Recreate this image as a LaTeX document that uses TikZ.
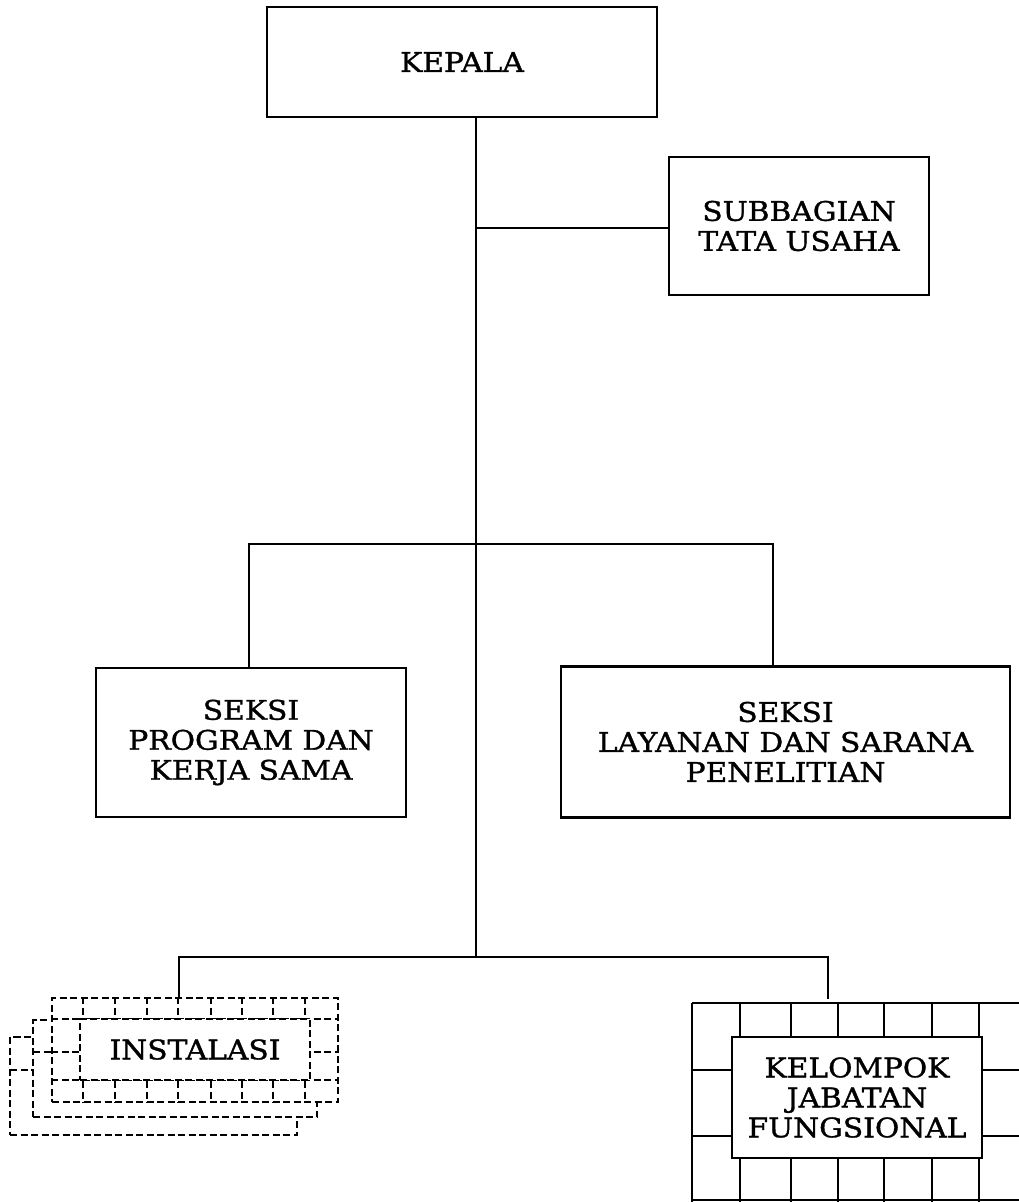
\documentclass[tikz,border=0pt]{standalone}
\usepackage{fontspec}
\setmainfont[FakeStretch=1.1,FakeBold=1.2]{DejaVu Serif}
\begin{document}
\begin{tikzpicture}[x=1pt,y=-1pt,
  line/.style={line width=2.1pt},
  box/.style={draw,line width=2.1pt,fill=white,align=center,inner sep=0pt,
    font=\fontsize{27}{30}\selectfont},
  dline/.style={line width=1.6pt,dash pattern=on 7pt off 3.5pt},
  dbox/.style={draw,dline,fill=white,inner sep=0pt},
  gline/.style={line width=1.9pt}]
\useasboundingbox (0,0) rectangle (1019,1202);

% main boxes
\node[box,minimum width=390pt,minimum height=110pt] (kepala) at (462,62) {KEPALA};
\node[box,minimum width=260pt,minimum height=138pt] (tu) at (799,226) {SUBBAGIAN\\TATA USAHA};
\node[box,minimum width=310pt,minimum height=149pt] (prog) at (251,742.5) {SEKSI\\PROGRAM DAN\\KERJA SAMA};
\node[box,minimum width=449pt,minimum height=151pt] (lay) at (785.5,742) {SEKSI\\LAYANAN DAN SARANA\\PENELITIAN};

% spine and junctions
\coordinate (j1) at (476,228);
\coordinate (j2) at (476,544);
\coordinate (jl) at (249,544);
\coordinate (jr) at (773,544);
\coordinate (j3) at (476,957);
\coordinate (bl) at (179,957);
\coordinate (br) at (828,957);
\coordinate (kend) at (828,999);

\draw[line] (kepala.south -| j1) -- (j3);
\draw[line] (j1) -- (j1 -| tu.west);
\draw[line,line cap=rect] (jl) -- (jr);
\draw[line] (jl) -- (jl |- prog.north);
\draw[line] (jr) -- (jr |- lay.north);
\draw[line,line cap=rect] (bl) -- (br);
\draw[line] (br) -- (kend);

% INSTALASI stack
\node[dbox,minimum width=287pt,minimum height=98pt] (inst3) at (153.5,1086) {};
\draw[dline] (10,1070) -- (33,1070);
\node[dbox,minimum width=284pt,minimum height=97pt] (inst2) at (175,1068.5) {};
\draw[dline] (33,1052) -- (52,1052);
\node[dbox,minimum width=286pt,minimum height=104pt] (inst1) at (195,1050) {};
\foreach \yy in {1019,1052,1080} \draw[dline] (inst1.west |- 0,\yy) -- (inst1.east |- 0,\yy);
\foreach \xx in {83,115,147,178,211,242,273,305} \draw[dline] (inst1.north -| \xx,0) -- (inst1.south -| \xx,0);
\draw[line] (bl) -- (bl |- inst1.north);
\node[dbox,minimum width=230pt,minimum height=61pt,font=\fontsize{27}{30}\selectfont] (inst) at (195,1049.5) {INSTALASI};

% KELOMPOK JABATAN FUNGSIONAL grid
\foreach \yy in {1003,1070,1136,1200} \draw[gline] (692,\yy) -- (1019,\yy);
\foreach \xx in {692,740,791,838,884,932,979} \draw[gline] (\xx,1003) -- (\xx,1202);
\node[box,minimum width=250pt,minimum height=121pt] (kjf) at (857,1097.5) {KELOMPOK\\JABATAN\\FUNGSIONAL};
\end{tikzpicture}
\end{document}
